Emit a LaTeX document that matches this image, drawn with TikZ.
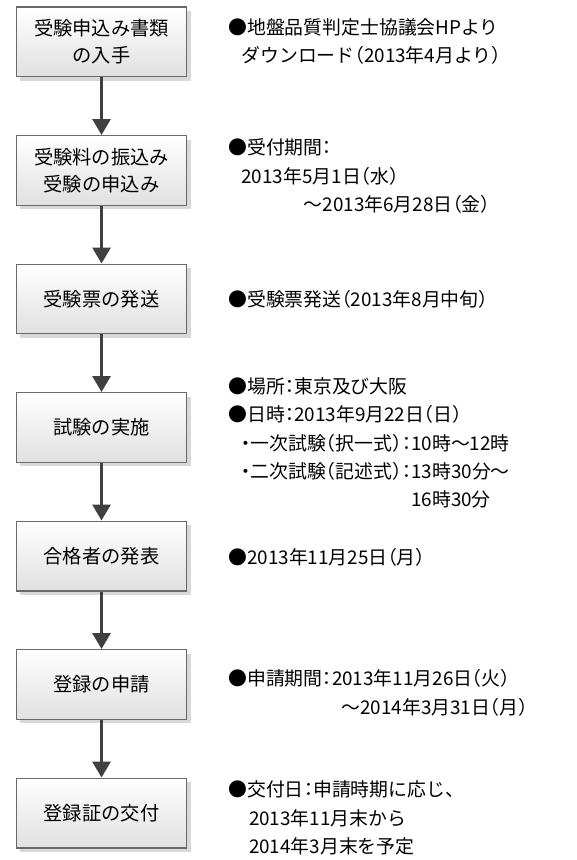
\documentclass[tikz,border=0pt]{standalone}
\usepackage{fontspec}
\setmainfont{Noto Sans CJK JP}[RawFeature={+halt}]
\usepackage{tikz}
\usetikzlibrary{arrows.meta}
\usetikzlibrary{positioning,shadows}
\definecolor{boxline}{RGB}{105,105,105}
\definecolor{boxbottom}{RGB}{224,224,224}
\definecolor{boxshadow}{RGB}{216,216,216}
\definecolor{arrowgray}{RGB}{64,64,64}
\tikzset{
	flowbox/.style={rectangle, draw=boxline, line width=0.8pt, top color=white, bottom color=boxbottom, minimum width=4.52cm, minimum height=1.85cm, align=center, font=\fontsize{14.5}{20.3}\selectfont, drop shadow={shadow xshift=3pt, shadow yshift=-3pt, fill=boxshadow, opacity=1}},
	flowarrow/.style={-{Triangle[length=12pt,width=13.5pt]}, line width=2.25pt, draw=arrowgray},
	notetext/.style={anchor=west, align=left, inner sep=0pt, font=\fontsize{14.2}{21.4}\selectfont}
}

\begin{document}
\begin{tikzpicture}
		\useasboundingbox (0,0) rectangle (15.24,-22.754);
		\node[flowbox] at (2.686,-1.111) (b1)  {受験申込み書類\\の入手};
		\node[flowbox] at (2.686,-4.511) (b2)  {受験料の振込み\\受験の申込み};
		\node[flowbox] at (2.686,-7.911) (b3)  {受験票の発送};
		\node[flowbox] at (2.686,-11.311) (b4) {試験の実施};
		\node[flowbox] at (2.686,-14.711) (b5) {合格者の発表};
		\node[flowbox] at (2.686,-18.111) (b6) {登録の申請};
		\node[flowbox] at (2.686,-21.511) (b7) {登録証の交付};
		\draw[flowarrow] (b1) -- (b2);
		\draw[flowarrow] (b2) -- (b3);
		\draw[flowarrow] (b3) -- (b4);
		\draw[flowarrow] (b4) -- (b5);
		\draw[flowarrow] (b5) -- (b6);
		\draw[flowarrow] (b6) -- (b7);
		\node[notetext] at (6.033,-1.098) (t1) {●地盤品質判定士協議会HPより\\ \hspace*{0.7em}ダウンロード（2013年4月より）};
		\node[notetext] at (6.033,-4.657) (t2) {●受付期間：\\ \hspace*{0.7em}2013年5月1日（水）\\ \hspace*{4.0em}～2013年6月28日（金）};
		\node[notetext] at (6.033,-7.911) (t3) {●受験票発送（2013年8月中旬）};
		\node[notetext] at (6.033,-11.721) (t4) {●場所：東京及び大阪\\●日時：2013年9月22日（日）\\ \hspace*{0.7em}・一次試験（択一式）：10時～12時\\ \hspace*{0.7em}・二次試験（記述式）：13時30分～\\ \hspace*{0.7em}\phantom{・二次試験（記述式）：}16時30分};
		\node[notetext] at (6.033,-14.737) (t5) {●2013年11月25日（月）};
		\node[notetext] at (6.033,-18.335) (t6) {●申請期間：2013年11月26日（火）\\ \phantom{●申請期間：}\hspace*{0.5em}～2014年3月31日（月）};
		\node[notetext] at (6.033,-21.642) (t7) {●交付日：申請時期に応じ、\\ \hspace*{1.1em}2013年11月末から\\ \hspace*{1.1em}2014年3月末を予定};
	\end{tikzpicture}
\end{document}
